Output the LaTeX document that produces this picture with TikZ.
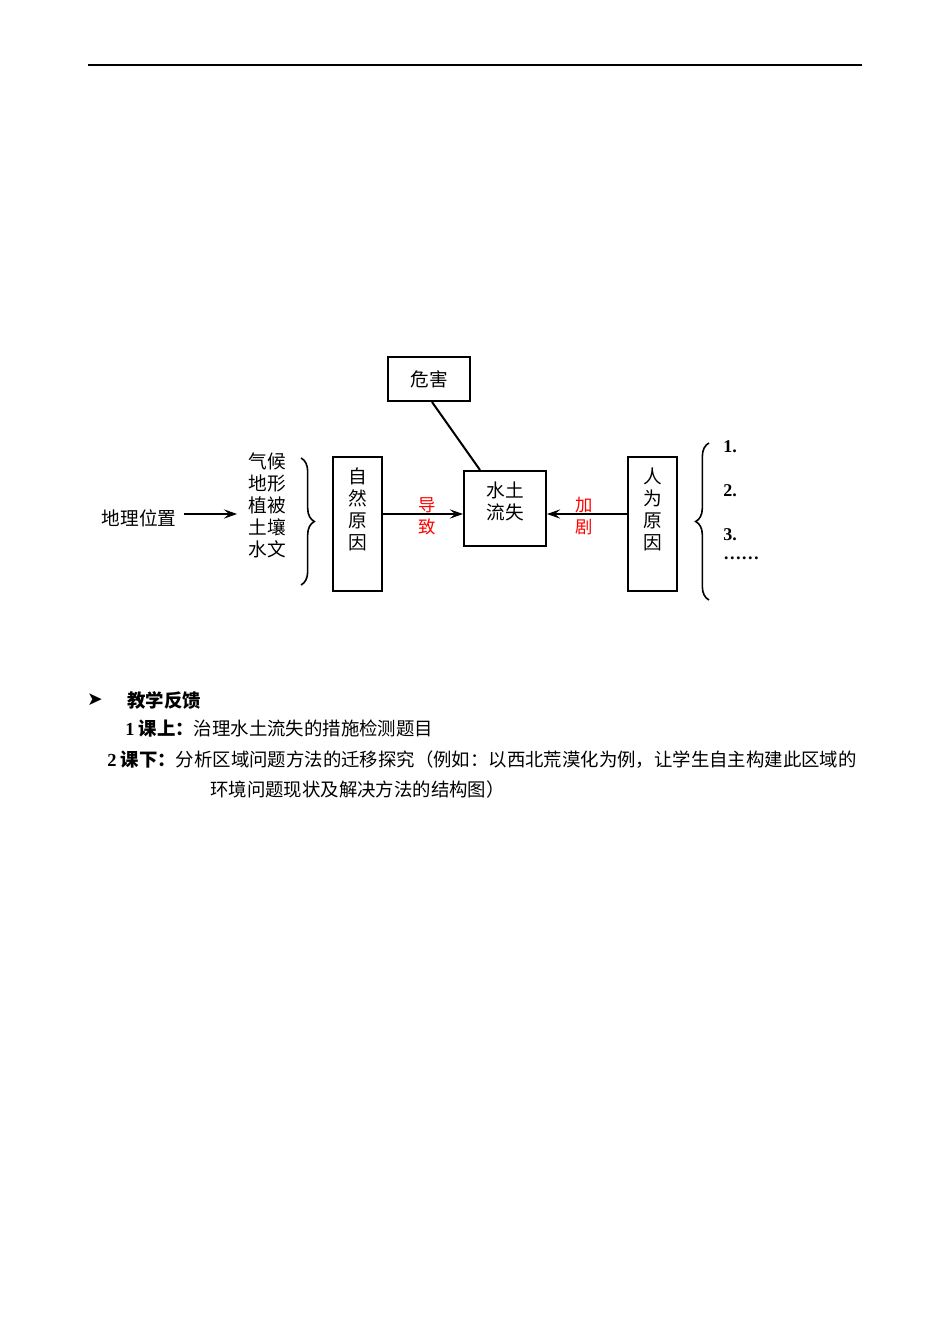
\documentclass[tikz,border=0pt]{standalone}
\usepackage{fontspec}
\setmainfont{Liberation Serif}
\newfontfamily\cjk{Noto Sans CJK SC}
\newfontfamily\symfont{DejaVu Sans}
\definecolor{markred}{HTML}{FF0000}
\usetikzlibrary{arrows.meta, decorations.pathreplacing, positioning}

\begin{document}
\begin{tikzpicture}[x=0.75pt, y=-0.75pt,
   box/.style={draw, line width=1.5pt, inner sep=0pt},
   lab/.style={align=center, inner sep=0pt, font=\cjk\fontsize{14}{16.5}\selectfont},
   redlab/.style={align=center, inner sep=0pt, text=markred, font=\cjk\fontsize{13}{16.5}\selectfont},
   num/.style={anchor=west, inner sep=0pt, font=\bfseries\fontsize{13.5}{16}\selectfont},
   body/.style={anchor=west, inner sep=0pt, font=\cjk\fontsize{13.8}{16}\selectfont},
   arr/.style={-{Stealth[length=10pt, width=7pt, inset=4pt]}, line width=0.9pt},
   bracket/.style={line width=1.2pt, decorate, decoration={brace, amplitude=10pt}}]
   \useasboundingbox[fill=white] (0,0) rectangle (950,1342);
   % Header rule
   \draw[line width=1pt] (88,65) -- (862,65);
   % Boxes
   \node[box, minimum width=61.5pt, minimum height=33pt] (harm) at (429,379) {};
   \node[box, minimum width=61.5pt, minimum height=56.25pt] (loss) at (505,508.5) {};
   \node[box, minimum width=36.75pt, minimum height=100.5pt] (nat) at (357.5,524) {};
   \node[box, minimum width=36.75pt, minimum height=100.5pt] (hum) at (652.5,524) {};
   % Box texts
   \node[lab] (harmT) at (harm.center) {危害};
   \node[lab] (lossT) at (505,501) {水土\\流失};
   \node[lab] (natT) at (357.5,509.5) {自\\然\\原\\因};
   \node[lab] (humT) at (652.5,509.5) {人\\为\\原\\因};
   % Left side: position and factors
   \node[lab] (geo) at (139,518) {地理位置};
   \node[lab] (fac) at (267,505.5) {气候\\地形\\植被\\土壤\\水文};
   \coordinate (geoOut) at ([xshift=5.25pt, yshift=3pt]geo.east);
   \draw[arr] (geoOut) -- ([xshift=-8.25pt]geoOut -| fac.west);
   \draw[bracket] (301,458) -- (301,585);
   % Causes into soil loss
   \coordinate (natOut) at ([yshift=7.5pt]nat.east);
   \coordinate (humOut) at ([yshift=7.5pt]hum.west);
   \draw[arr] (natOut) -- (natOut -| loss.west);
   \draw[arr] (humOut) -- (humOut -| loss.east);
   \node[redlab] (lead) at (427,516) {导\\致};
   \node[redlab] (worsen) at (584,516) {加\\剧};
   % Harm link
   \draw[line width=1.5pt] ([xshift=2.25pt]harm.south) -- ([xshift=-18.75pt]loss.north);
   % Right side: human factors list
   \draw[bracket] (709,600) -- (709,443);
   \node[num] (h1) at (723,447) {1.};
   \node[num] (h2) at (723,491) {2.};
   \node[num] (h3) at (723,535) {3.};
   \node[num] (h4) at (723,558) {……};
   % Feedback text
   \node[inner sep=0pt, font=\symfont\fontsize{14}{16}\selectfont] (mark) at (95,700) {➤};
   \node[body, font=\cjk\bfseries\fontsize{13.8}{16}\selectfont] (fb) at (127,700) {教学反馈};
   \node[body] (fb1) at (125,729) {\textbf{{\rmfamily 1} {\cjk 课上：}}治理水土流失的措施检测题目};
   \node[body] (fb2) at (107,760) {\textbf{{\rmfamily 2} {\cjk 课下：}}分析区域问题方法的迁移探究（例如：以西北荒漠化为例，让学生自主构建此区域的};
   \node[body] (fb3) at (210,789) {环境问题现状及解决方法的结构图）};
\end{tikzpicture}
\end{document}
